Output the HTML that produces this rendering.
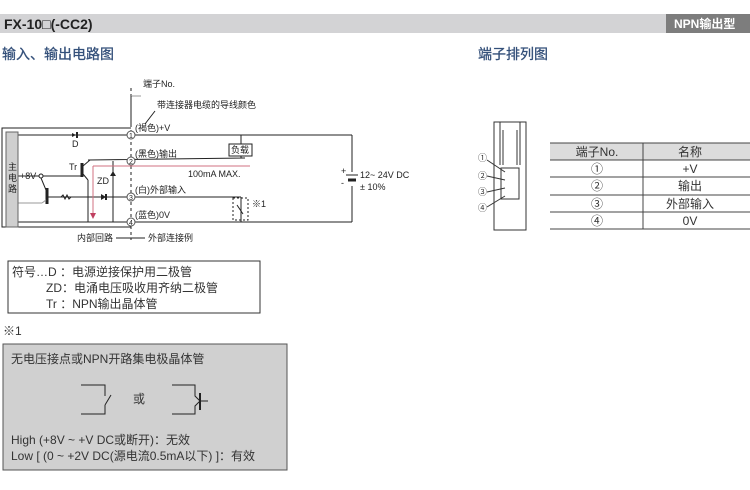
<!DOCTYPE html>
<html><head><meta charset="utf-8"><style>
html,body{margin:0;padding:0;background:#fff;}
svg{display:block;font-family:"Liberation Sans","Noto Sans CJK SC",sans-serif;}
</style></head><body>
<svg width="750" height="490" viewBox="0 0 750 490" xmlns="http://www.w3.org/2000/svg">
<rect x="0" y="14" width="750" height="19" fill="#d3d3d5"/>
<rect x="666" y="14" width="84" height="19" fill="#7d7d7d"/>
<text x="4" y="29" font-size="14" font-weight="bold" fill="#222">FX-10□(-CC2)</text>
<text x="674" y="28" font-size="12" fill="#fff" font-weight="bold">NPN输出型</text>
<text x="2" y="59" font-size="14" fill="#34507a" stroke="#34507a" stroke-width="0.3">输入、输出电路图</text>
<text x="478" y="59" font-size="14" fill="#34507a" stroke="#34507a" stroke-width="0.3">端子排列图</text>

<g stroke="#222" stroke-width="1" fill="none">
<polyline points="131,227 2,227 2,128 131,128"/>
<line x1="131" y1="88" x2="131" y2="240" stroke-dasharray="3,3"/>
<line x1="18" y1="135" x2="352" y2="135"/>
<line x1="352" y1="135" x2="352" y2="222"/>
<line x1="18" y1="222" x2="352" y2="222"/>
<polyline points="88,160 245,158 241,158 241,155"/>
<line x1="241" y1="135" x2="241" y2="144"/>
<rect x="229" y="144" width="23" height="12" fill="#fff"/>
<line x1="82" y1="163" x2="82" y2="177" stroke-width="3"/>
<line x1="83" y1="166" x2="90" y2="160"/>
<line x1="83" y1="174" x2="88" y2="180"/>
<line x1="88" y1="180" x2="88" y2="222"/>
<line x1="18" y1="176" x2="82" y2="176"/>
<line x1="113" y1="161" x2="113" y2="222"/>
<line x1="47" y1="188" x2="47" y2="204" stroke-width="3"/>
<line x1="41" y1="178" x2="46" y2="190"/>
<line x1="47" y1="197" x2="241" y2="197"/>
<line x1="18" y1="203" x2="42" y2="203" stroke="#999"/>
<line x1="42" y1="203" x2="46" y2="200" stroke="#999"/>
<line x1="241" y1="197" x2="241" y2="222"/>
<rect x="233" y="198" width="15" height="22" stroke-dasharray="2,2"/>
<line x1="237" y1="205" x2="243" y2="214"/>
<line x1="352" y1="172" x2="352" y2="186" stroke="#fff" stroke-width="3"/>
<line x1="346" y1="175" x2="358" y2="175"/>
<line x1="348" y1="180" x2="356" y2="180" stroke-width="3"/>
<line x1="131" y1="96" x2="141" y2="96" stroke="#999"/>
<line x1="131" y1="96" x2="131" y2="125"/>
<line x1="155" y1="111" x2="145" y2="124"/>
<line x1="116" y1="238" x2="145" y2="238"/>
</g>
<path d="M93,166 L250,166 M93,166 L93,214" stroke="#d07080" fill="none"/>
<path d="M90,213 L96,213 L93,219Z" fill="#c04060"/>
<path d="M72,133 L72,137 L76,135Z" fill="#222"/><line x1="77" y1="132" x2="77" y2="138" stroke="#222" stroke-width="2"/>
<path d="M101,194 L101,200 L106,197Z" fill="#222"/><line x1="106" y1="194" x2="106" y2="200" stroke="#222" stroke-width="2"/>
<path d="M110,176 L116,176 L113,171Z" fill="#222"/>
<path d="M61,197 l2,-2 l2,4 l2,-4 l2,4 l2,-2" stroke="#222" fill="none"/>
<circle cx="41" cy="176" r="2" fill="#fff" stroke="#222"/>
<rect x="6" y="132" width="12" height="95" fill="#cfcfcf" stroke="#666"/>
<text x="8" y="170" font-size="9" fill="#222">主</text><text x="8" y="181" font-size="9" fill="#222">电</text><text x="8" y="192" font-size="9" fill="#222">路</text>
<g font-size="9" fill="#222" text-anchor="middle">
<circle cx="131" cy="135" r="4" fill="#fff" stroke="#555"/><text x="131" y="138" font-size="7">1</text>
<circle cx="131" cy="161" r="4" fill="#fff" stroke="#555"/><text x="131" y="164" font-size="7">2</text>
<circle cx="131" cy="197" r="4" fill="#fff" stroke="#555"/><text x="131" y="200" font-size="7">3</text>
<circle cx="131" cy="222" r="4" fill="#fff" stroke="#555"/><text x="131" y="225" font-size="7">4</text>
</g>
<g font-size="9" fill="#222">
<text x="143" y="87">端子No.</text>
<text x="157" y="108">带连接器电缆的导线颜色</text>
<text x="135" y="131">(褐色)+V</text>
<text x="135" y="157">(黑色)输出</text>
<text x="135" y="193">(白)外部输入</text>
<text x="135" y="218">(蓝色)0V</text>
<text x="231" y="153">负载</text>
<text x="188" y="177">100mA MAX.</text>
<text x="69" y="170">Tr</text>
<text x="97" y="184">ZD</text>
<text x="72" y="147">D</text>
<text x="20" y="179">+8V</text>
<text x="252" y="207">※1</text>
<text x="341" y="174">+</text>
<text x="341" y="186">-</text>
<text x="360" y="178">12~ 24V DC</text>
<text x="360" y="190">± 10%</text>
<text x="77" y="241">内部回路</text>
<text x="148" y="241">外部连接例</text>
</g>

<rect x="8" y="261" width="252" height="52" fill="#fff" stroke="#333"/>
<g font-size="12" fill="#333">
<text x="12" y="276">符号…D  ：电源逆接保护用二极管</text>
<text x="46" y="292">ZD：电涌电压吸收用齐纳二极管</text>
<text x="46" y="308">Tr ：NPN输出晶体管</text>
<text x="3" y="335">※1</text>
</g>
<rect x="3" y="344" width="284" height="126" fill="#d0d0d0" stroke="#555"/>
<g font-size="12" fill="#333">
<text x="11" y="363">无电压接点或NPN开路集电极晶体管</text>
<text x="133" y="403">或</text>
<text x="11" y="444">High (+8V ~ +V DC或断开)：无效</text>
<text x="11" y="460">Low [ (0 ~ +2V DC(源电流0.5mA以下) ]：有效</text>
</g>
<g stroke="#222" fill="none">
<polyline points="81,385 105,385 105,396"/><polyline points="81,414 105,414 105,405"/><line x1="105" y1="405" x2="111" y2="395"/>
<polyline points="172,385 195,385 195,396 200,401"/><polyline points="172,414 195,414 195,406 200,401"/>
<line x1="200" y1="393" x2="200" y2="410" stroke-width="2"/><line x1="200" y1="401" x2="208" y2="401"/>
</g>

<g stroke="#333" fill="none">
<rect x="494" y="122" width="32" height="108"/>
<line x1="500" y1="122" x2="500" y2="165"/><line x1="520" y1="122" x2="520" y2="165"/>
<line x1="503" y1="130" x2="503" y2="165"/><line x1="517" y1="130" x2="517" y2="165"/>
<rect x="501" y="168" width="18" height="31"/>
<line x1="487" y1="160" x2="505" y2="172"/><line x1="487" y1="176" x2="505" y2="180"/><line x1="487" y1="192" x2="505" y2="188"/><line x1="487" y1="207" x2="505" y2="196"/>
</g>
<g font-size="9" fill="#333"><text x="478" y="161">①</text><text x="478" y="179">②</text><text x="478" y="195">③</text><text x="478" y="211">④</text></g>
<rect x="550" y="143" width="200" height="17" fill="#dcdcdc"/>
<g stroke="#444">
<line x1="550" y1="143" x2="750" y2="143"/><line x1="550" y1="160" x2="750" y2="160"/>
<line x1="550" y1="177" x2="750" y2="177"/><line x1="550" y1="195" x2="750" y2="195"/>
<line x1="550" y1="212" x2="750" y2="212"/><line x1="550" y1="229" x2="750" y2="229"/>
<line x1="643" y1="143" x2="643" y2="229"/>
</g>
<g font-size="12" fill="#333" text-anchor="middle">
<text x="597" y="156">端子No.</text><text x="690" y="156">名称</text>
<text x="597" y="173">①</text><text x="690" y="173">+V</text>
<text x="597" y="190">②</text><text x="690" y="190">输出</text>
<text x="597" y="208">③</text><text x="690" y="208">外部输入</text>
<text x="597" y="225">④</text><text x="690" y="225">0V</text>
</g>
</svg>
</body></html>
